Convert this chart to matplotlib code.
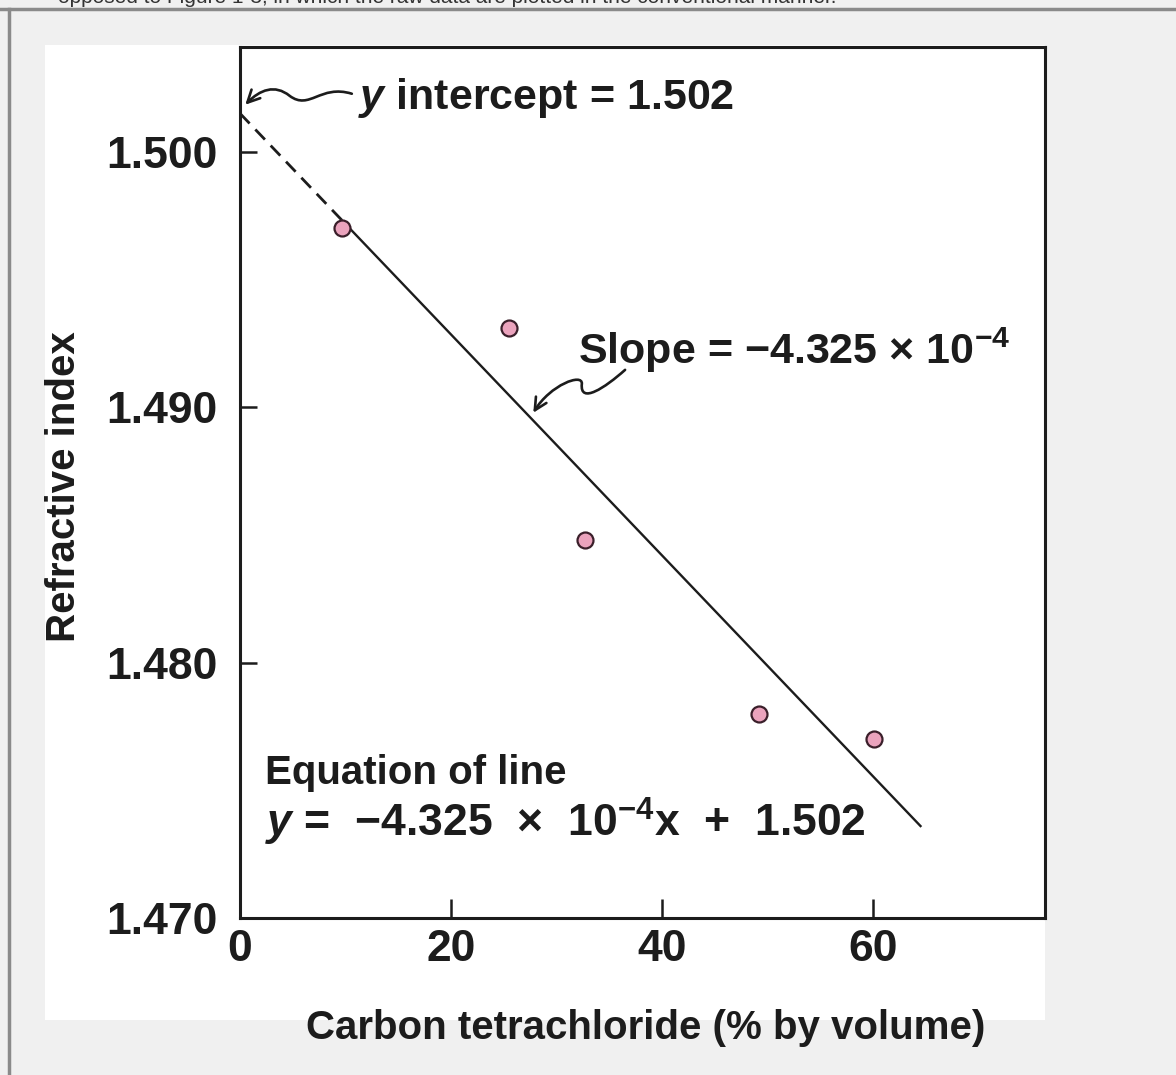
import matplotlib
matplotlib.use("Agg")
import matplotlib.pyplot as plt
from matplotlib import font_manager
from matplotlib.patches import Rectangle, FancyArrowPatch
from matplotlib.path import Path
from matplotlib.lines import Line2D

# values
ccl4_pct = [9.7, 25.5, 32.7, 49.2, 60.1]
refr_index = [1.4970, 1.4931, 1.4848, 1.4780, 1.4770]

# least-squares line as drawn: dashed back to x=0, solid over the data
fit_x = [0.0, 9.7, 64.5]
fit_y = [1.5015, 1.4973, 1.4736]

xticks = [0, 20, 40, 60]
yticks = [1.470, 1.480, 1.490, 1.500]
ytick_labels = ["1.470", "1.480", "1.490", "1.500"]

W, H = 1176, 1075

plt.rcParams["font.family"] = ["Liberation Sans", "DejaVu Sans"]
plt.rcParams["font.weight"] = "bold"
plt.rcParams["mathtext.fontset"] = "custom"
plt.rcParams["mathtext.rm"] = "Liberation Sans:bold"
plt.rcParams["mathtext.bf"] = "Liberation Sans:bold"
plt.rcParams["mathtext.it"] = "Liberation Sans:italic:bold"

names = {f.name for f in font_manager.fontManager.ttflist}
if "Liberation Sans Narrow" in names:
    label_font = dict(family="Liberation Sans Narrow", fontsize=34)
else:
    label_font = dict(family="Liberation Sans", fontsize=29)

ink = "#1c1c1c"

fig = plt.figure(figsize=(W / 100, H / 100), dpi=100, facecolor="#f0f0f0")

# page furniture around the scanned figure (top line of text is cut off in the source)
fig.text(58 / W, 1 - 3 / H,
         "opposed to Figure 1-3, in which the raw data are plotted in the conventional manner.",
         fontsize=15, fontweight="normal", color="#333333", va="baseline")
fig.add_artist(Line2D([0, 1], [1 - 9 / H, 1 - 9 / H], transform=fig.transFigure,
                      color="#8a8a8a", lw=2.5))
fig.add_artist(Line2D([9 / W, 9 / W], [0, 1 - 9 / H], transform=fig.transFigure,
                      color="#8a8a8a", lw=2.5))
fig.patches.append(Rectangle((45 / W, (H - 1020) / H), 1000 / W, 975 / H,
                             transform=fig.transFigure, facecolor="white",
                             edgecolor="none", zorder=-1))

ax = fig.add_axes([240 / W, (H - 918) / H, 805 / W, 871 / H])
ax.set_facecolor("white")

ax.plot(fit_x[:2], fit_y[:2], color=ink, lw=2.0, ls=(0, (5, 3)))
ax.plot(fit_x[1:], fit_y[1:], color=ink, lw=1.7)
ax.plot(ccl4_pct, refr_index, "o", ms=11.5, mfc="#eba3bd", mec="#3a1f2a", mew=1.6)

ax.set_xlim(0, 76.3)
ax.set_ylim(1.470, 1.5041)
ax.set_xticks(xticks)
ax.set_yticks(yticks)
ax.set_yticklabels(ytick_labels)
ax.tick_params(axis="y", direction="in", length=12, width=1.8, pad=16,
               labelsize=32, colors=ink)
ax.tick_params(axis="x", direction="in", length=14, width=1.8, pad=8,
               labelsize=32, colors=ink)
for s in ax.spines.values():
    s.set_linewidth(2.2)
    s.set_color(ink)

ax.set_xlabel("Carbon tetrachloride (% by volume)", fontweight="bold", color=ink, **label_font)
ax.set_ylabel("Refractive index", fontweight="bold", color=ink, **label_font)
ax.xaxis.set_label_coords(0.504, -0.105)
ax.yaxis.set_label_coords(-0.195, 0.495)

# annotations
ax.text(11.2, 1.50212, r"$y$ intercept = 1.502", fontsize=31, color=ink, va="center")
ax.text(32.0, 1.49224, r"Slope = $-$4.325 × 10$^{-4}$", fontsize=31, color=ink, va="center")
ax.text(2.4, 1.47568, "Equation of line", fontweight="bold", color=ink, va="center",
        **label_font)
ax.text(2.4, 1.47376, r"$y$ =  $-$4.325  ×  10$^{-4}$x  +  1.502", fontsize=32,
        color=ink, va="center")

codes = [Path.MOVETO, Path.CURVE4, Path.CURVE4, Path.CURVE4,
         Path.CURVE4, Path.CURVE4, Path.CURVE4]
icpt_arrow = [(10.6, 1.50227), (7.6, 1.50265), (6.6, 1.50160), (4.7, 1.50219),
              (3.3, 1.50265), (1.9, 1.50243), (0.5, 1.50184)]
slope_arrow = [(36.5, 1.49146), (34.6, 1.49076), (32.2, 1.49010), (32.4, 1.49091),
               (32.5, 1.49135), (29.4, 1.49087), (27.8, 1.48978)]
for verts in (icpt_arrow, slope_arrow):
    ax.add_patch(FancyArrowPatch(path=Path(verts, codes), arrowstyle="->",
                                 mutation_scale=22, lw=1.9, color=ink))

fig.savefig("out.png", dpi=100, facecolor=fig.get_facecolor())
